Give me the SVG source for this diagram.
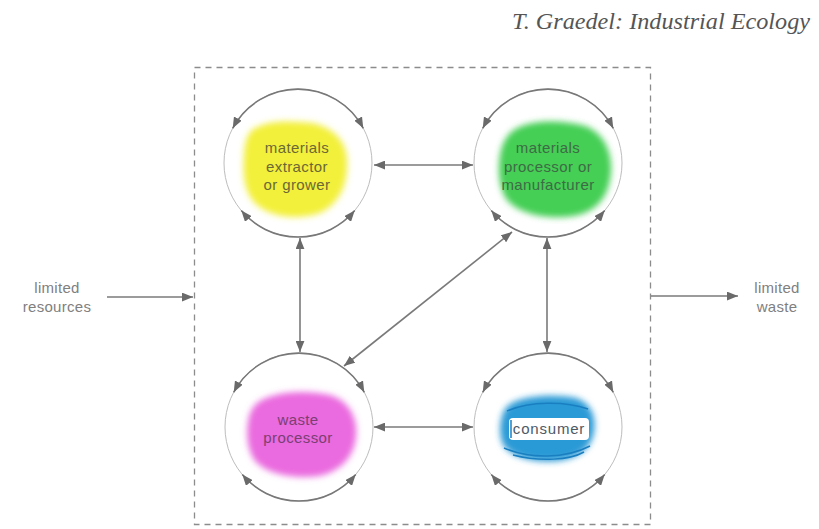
<svg xmlns="http://www.w3.org/2000/svg" width="819" height="529" viewBox="0 0 819 529">
<defs>
<marker id="ah" viewBox="0 0 10 8" refX="10" refY="4" markerWidth="11" markerHeight="9" markerUnits="userSpaceOnUse" orient="auto-start-reverse">
<path d="M0,0 L10,4 L0,8 z" fill="#6a6a6a"/>
</marker>
<filter id="soft" x="-20%" y="-20%" width="140%" height="140%">
<feGaussianBlur stdDeviation="3"/>
</filter>
</defs>
<style>
.ring{fill:#fff;stroke:#bdbdbd;stroke-width:1}
.arc{fill:none;stroke:#787878;stroke-width:1.6;marker-start:url(#ah);marker-end:url(#ah)}
.con{fill:none;stroke:#7a7a7a;stroke-width:1.6}
.lbl{font-family:"Liberation Sans",Arial,sans-serif;font-size:15px;text-anchor:middle;letter-spacing:0.4px}
.side{font-family:"Liberation Sans",Arial,sans-serif;font-size:15px;text-anchor:middle;fill:#808080;letter-spacing:0.3px}
</style>
<rect width="819" height="529" fill="#fff"/>
<text x="810" y="29" font-family="'Liberation Serif','Times New Roman',serif" font-style="italic" font-size="24" fill="#555" text-anchor="end" textLength="298" lengthAdjust="spacingAndGlyphs">T. Graedel: Industrial Ecology</text>
<rect id="system-boundary" x="194.5" y="67.5" width="456" height="457" fill="none" stroke="#8c8c8c" stroke-width="1.3" stroke-dasharray="6,5"/>
<g id="limited-resources">
<text class="side" x="57" y="293">limited</text>
<text class="side" x="57" y="312">resources</text>
</g>
<g id="limited-waste">
<text class="side" x="777" y="293">limited</text>
<text class="side" x="777" y="312">waste</text>
</g>
<g id="extractor">
<circle class="ring" cx="298" cy="163" r="74"/>
<path d="M252,130 C268,119 292,121 312,123 C332,127 346,140 347,160 C348,182 341,203 320,213 C298,220 272,218 257,205 C242,192 243,170 244,153 C245,142 247,135 252,130 Z" fill="#f3f03a" filter="url(#soft)"/>
<path class="arc" d="M232.7,128.3 A74,74 0 0 1 363.3,128.3"/>
<path class="arc" d="M241.3,210.6 A74,74 0 0 0 354.7,210.6"/>
<text class="lbl" fill="#6b6835" x="297" y="153">materials</text>
<text class="lbl" fill="#6b6835" x="297" y="172">extractor</text>
<text class="lbl" fill="#6b6835" x="297" y="190">or grower</text>
</g>
<g id="manufacturer">
<circle class="ring" cx="548" cy="163" r="74"/>
<path d="M514,130 C532,119 562,120 585,126 C604,133 612,152 611,172 C609,196 598,211 574,216 C549,220 520,215 507,200 C497,186 498,163 501,150 C504,140 508,134 514,130 Z" fill="#45cf55" filter="url(#soft)"/>
<path class="arc" d="M482.7,128.3 A74,74 0 0 1 613.3,128.3"/>
<path class="arc" d="M491.3,210.6 A74,74 0 0 0 604.7,210.6"/>
<text class="lbl" fill="#3e6b45" x="548" y="153">materials</text>
<text class="lbl" fill="#3e6b45" x="548" y="172">processor or</text>
<text class="lbl" fill="#3e6b45" x="548" y="190">manufacturer</text>
</g>
<g id="waste-processor">
<circle class="ring" cx="299" cy="427" r="74"/>
<path d="M260,401 C277,391 306,390 330,395 C350,401 358,419 356,437 C354,456 342,471 319,476 C295,479 269,475 256,462 C246,450 246,430 249,417 C251,409 255,404 260,401 Z" fill="#ea6adf" filter="url(#soft)"/>
<path class="arc" d="M233.7,392.3 A74,74 0 0 1 364.3,392.3"/>
<path class="arc" d="M242.3,474.6 A74,74 0 0 0 355.7,474.6"/>
<text class="lbl" fill="#7a3f72" x="298" y="425">waste</text>
<text class="lbl" fill="#7a3f72" x="298" y="443">processor</text>
</g>
<g id="consumer">
<circle class="ring" cx="548" cy="427" r="74"/>
<path d="M512,403 C527,395 556,394 576,398 C591,403 596,416 594,431 C592,447 580,458 558,461 C535,463 513,458 504,446 C498,436 500,419 504,411 C506,407 509,405 512,403 Z" fill="#2b9ad6" filter="url(#soft)"/>
<path d="M507,411 C530,401 565,401 588,409 M504,448 C530,459 565,459 590,446 M513,455 C540,462 570,460 584,452" fill="none" stroke="#1a7fc0" stroke-width="1.5"/>
<rect x="509" y="418" width="80" height="22" rx="4" fill="#fff"/>
<path d="M511,420 L511,438" stroke="#1a7fc0" stroke-width="1.5"/>
<text class="lbl" fill="#4d5a66" x="549" y="434" style="letter-spacing:0.8px">consumer</text>
<path class="arc" d="M482.7,392.3 A74,74 0 0 1 613.3,392.3"/>
<path class="arc" d="M491.3,474.6 A74,74 0 0 0 604.7,474.6"/>
</g>
<g id="connectors">
<line class="con" x1="374" y1="165" x2="473" y2="165" marker-start="url(#ah)" marker-end="url(#ah)"/>
<line class="con" x1="374" y1="427" x2="473" y2="427" marker-start="url(#ah)" marker-end="url(#ah)"/>
<line class="con" x1="300" y1="238" x2="300" y2="352" marker-start="url(#ah)" marker-end="url(#ah)"/>
<line class="con" x1="547" y1="238" x2="547" y2="352" marker-start="url(#ah)" marker-end="url(#ah)"/>
<line class="con" x1="512" y1="232" x2="344" y2="366" marker-start="url(#ah)" marker-end="url(#ah)"/>
<line class="con" x1="107" y1="297" x2="193" y2="297" marker-end="url(#ah)"/>
<line class="con" x1="651" y1="296" x2="738" y2="296" marker-end="url(#ah)"/>
</g>
</svg>
